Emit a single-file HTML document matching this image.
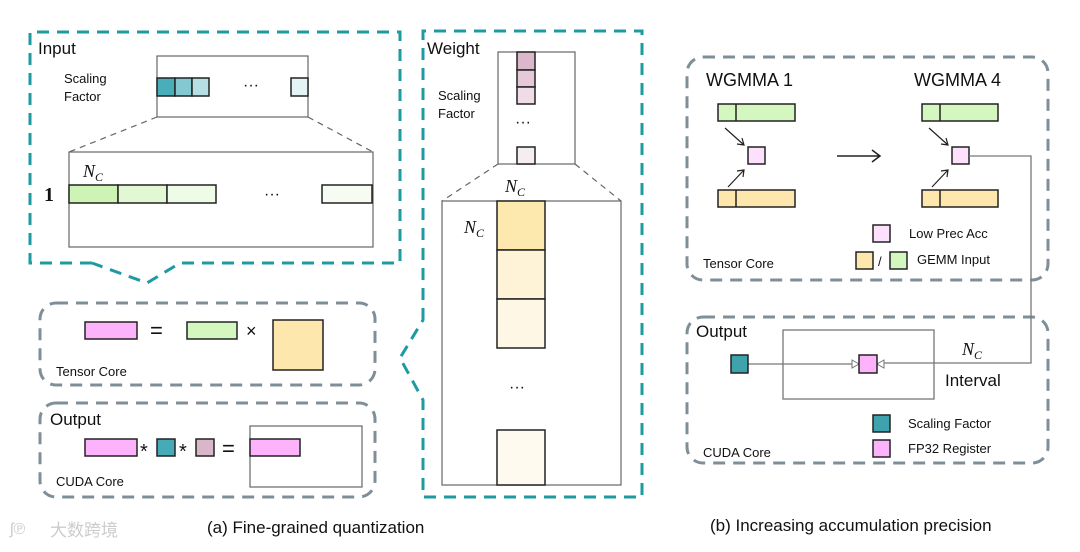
<!DOCTYPE html>
<html><head><meta charset="utf-8"><style>
html,body{margin:0;padding:0;background:#fff}
svg{display:block}
text{font-family:"Liberation Sans",sans-serif;fill:#111}
.m{font-family:"Liberation Serif",serif;font-style:italic}
</style></head><body>
<svg width="1080" height="552" viewBox="0 0 1080 552" xmlns="http://www.w3.org/2000/svg">
<g fill="none" stroke-width="3" stroke-dasharray="12,8">
<path d="M92 263 L30 263 L30 32 L400 32 L400 263 L180 263 L147 283 L92 263" stroke="#1d9aa2"/>
<path d="M423 320 L423 31 L642 31 L642 497 L423 497 L423 400 L400 358 Z" stroke="#1d9aa2"/>
<rect x="40" y="303" width="335" height="82" rx="16" stroke="#7f8f98"/>
<rect x="40" y="403" width="335" height="94" rx="16" stroke="#7f8f98"/>
<rect x="687" y="57" width="361" height="223" rx="16" stroke="#7f8f98"/>
<rect x="687" y="317" width="361" height="146" rx="16" stroke="#7f8f98"/>
</g>
<!-- Input -->
<text x="38" y="54" font-size="17">Input</text>
<text x="64" y="83" font-size="13">Scaling</text>
<text x="64" y="101" font-size="13">Factor</text>
<rect x="157" y="56" width="151" height="61" fill="none" stroke="#666" stroke-width="1.2"/>
<g stroke="#222" stroke-width="1.5">
<rect x="157" y="78" width="18" height="18" fill="#49aeba"/>
<rect x="175" y="78" width="17" height="18" fill="#84c8d1"/>
<rect x="192" y="78" width="17" height="18" fill="#b5dfe4"/>
<rect x="291" y="78" width="17" height="18" fill="#e4f3f5"/>
</g>
<text x="243" y="90" font-size="16">···</text>
<g stroke="#666" stroke-dasharray="6,5" stroke-width="1.2"><line x1="157" y1="117" x2="69" y2="152"/><line x1="308" y1="117" x2="373" y2="152"/></g>
<rect x="69" y="152" width="304" height="95" fill="none" stroke="#666" stroke-width="1.2"/>
<g stroke="#222" stroke-width="1.5">
<rect x="69" y="185" width="49" height="18" fill="#cdf3b5"/>
<rect x="118" y="185" width="49" height="18" fill="#e2f8d4"/>
<rect x="167" y="185" width="49" height="18" fill="#eefbe6"/>
<rect x="322" y="185" width="50" height="18" fill="#f6fcf2"/>
</g>
<text x="83" y="177" font-size="18" class="m">N<tspan font-size="12" dy="4">C</tspan></text>
<text x="44" y="201" font-size="20" style="font-family:'Liberation Serif',serif;font-weight:bold">1</text>
<text x="264" y="199" font-size="16">···</text>
<!-- Weight -->
<text x="427" y="54" font-size="17">Weight</text>
<text x="438" y="100" font-size="13">Scaling</text>
<text x="438" y="118" font-size="13">Factor</text>
<rect x="498" y="52" width="77" height="112" fill="none" stroke="#666" stroke-width="1.2"/>
<g stroke="#222" stroke-width="1.5">
<rect x="517" y="52" width="18" height="18" fill="#dbb7cb"/>
<rect x="517" y="70" width="18" height="17" fill="#e6c9d8"/>
<rect x="517" y="87" width="18" height="17" fill="#efdce6"/>
<rect x="517" y="147" width="18" height="17" fill="#f6edf1"/>
</g>
<text x="515" y="127" font-size="16">···</text>
<g stroke="#666" stroke-dasharray="6,5" stroke-width="1.2"><line x1="498" y1="164" x2="442" y2="201"/><line x1="575" y1="164" x2="621" y2="201"/></g>
<rect x="442" y="201" width="179" height="284" fill="none" stroke="#666" stroke-width="1.2"/>
<g stroke="#222" stroke-width="1.5">
<rect x="497" y="201" width="48" height="49" fill="#fde8ae"/>
<rect x="497" y="250" width="48" height="49" fill="#fef3d6"/>
<rect x="497" y="299" width="48" height="49" fill="#fef7e6"/>
<rect x="497" y="430" width="48" height="55" fill="#fefaf0"/>
</g>
<text x="505" y="192" font-size="18" class="m">N<tspan font-size="12" dy="4">C</tspan></text>
<text x="464" y="233" font-size="18" class="m">N<tspan font-size="12" dy="4">C</tspan></text>
<text x="509" y="392" font-size="16">···</text>
<!-- Tensor core eq -->
<g stroke="#222" stroke-width="1.5">
<rect x="85" y="322" width="52" height="17" fill="#fdb3fb"/>
<rect x="187" y="322" width="50" height="17" fill="#d4f7c0"/>
<rect x="273" y="320" width="50" height="50" fill="#fde7ad"/>
</g>
<text x="150" y="338" font-size="22">=</text>
<text x="246" y="337" font-size="18">×</text>
<text x="56" y="376" font-size="13">Tensor Core</text>
<!-- output eq -->
<text x="50" y="425" font-size="17">Output</text>
<g stroke="#222" stroke-width="1.5">
<rect x="85" y="439" width="52" height="17" fill="#fdb3fb"/>
<rect x="157" y="439" width="18" height="17" fill="#45abb8"/>
<rect x="196" y="439" width="18" height="17" fill="#d9b7c8"/>
</g>
<text x="140" y="458" font-size="20">*</text>
<text x="179" y="458" font-size="20">*</text>
<text x="222" y="456" font-size="22">=</text>
<rect x="250" y="426" width="112" height="61" fill="none" stroke="#666" stroke-width="1.2"/>
<rect x="250" y="439" width="50" height="17" fill="#fdb3fb" stroke="#222" stroke-width="1.5"/>
<text x="56" y="486" font-size="13">CUDA Core</text>
<!-- captions -->
<text x="207" y="533" font-size="17">(a) Fine-grained quantization</text>
<text x="710" y="531" font-size="17">(b) Increasing accumulation precision</text>
<text x="50" y="536" font-size="17" style="fill:#ccc;font-family:'Noto Sans CJK SC',sans-serif">大数跨境</text>
<text x="10" y="534" font-size="16" style="fill:#ccc">ʃ℗</text>
<!-- Right top -->
<text x="706" y="86" font-size="18">WGMMA 1</text>
<text x="914" y="86" font-size="18">WGMMA 4</text>
<g stroke="#222" stroke-width="1.5">
<rect x="718" y="104" width="77" height="17" fill="#d4f7c0"/><line x1="736" y1="104" x2="736" y2="121"/>
<rect x="718" y="190" width="77" height="17" fill="#fde7ad"/><line x1="736" y1="190" x2="736" y2="207"/>
<rect x="748" y="147" width="17" height="17" fill="#fde0fb"/>
<rect x="922" y="104" width="76" height="17" fill="#d4f7c0"/><line x1="940" y1="104" x2="940" y2="121"/>
<rect x="922" y="190" width="76" height="17" fill="#fde7ad"/><line x1="940" y1="190" x2="940" y2="207"/>
<rect x="952" y="147" width="17" height="17" fill="#fde0fb"/>
</g>
<g stroke="#222" stroke-width="1.2" fill="none">
<path d="M725 128 L744 145 M737 144 L744 145 L742 138"/>
<path d="M728 187 L744 170 M737 171 L744 170 L743 177"/>
<path d="M929 128 L948 145 M941 144 L948 145 L946 138"/>
<path d="M932 187 L948 170 M941 171 L948 170 L947 177"/>
<path d="M837 156 L880 156 M872 150 L880 156 L872 162" stroke-width="1.5"/>
</g>
<path d="M969 156 L1031 156 L1031 363 L880 363" fill="none" stroke="#777" stroke-width="1.3"/>
<g stroke="#222" stroke-width="1.5">
<rect x="873" y="225" width="17" height="17" fill="#fde0fb"/>
<rect x="856" y="252" width="17" height="17" fill="#fde7ad"/>
<rect x="890" y="252" width="17" height="17" fill="#d4f7c0"/>
</g>
<text x="878" y="266" font-size="13">/</text>
<text x="909" y="238" font-size="13">Low Prec Acc</text>
<text x="917" y="264" font-size="13">GEMM Input</text>
<text x="703" y="268" font-size="13">Tensor Core</text>
<!-- Right bottom -->
<text x="696" y="337" font-size="17">Output</text>
<rect x="783" y="330" width="151" height="69" fill="none" stroke="#777" stroke-width="1.3"/>
<line x1="748" y1="364" x2="852" y2="364" stroke="#777" stroke-width="1.3"/>
<path d="M852 360 L859 364 L852 368 Z M884 360 L877 364 L884 368 Z" fill="#fff" stroke="#777"/>
<g stroke="#222" stroke-width="1.5">
<rect x="731" y="355" width="17" height="18" fill="#3fa3ae"/>
<rect x="859" y="355" width="18" height="18" fill="#fdb3fb"/>
<rect x="873" y="415" width="17" height="17" fill="#3fa3ae"/>
<rect x="873" y="440" width="17" height="17" fill="#fdb3fb"/>
</g>
<text x="962" y="355" font-size="18" class="m">N<tspan font-size="12" dy="4">C</tspan></text>
<text x="945" y="386" font-size="17">Interval</text>
<text x="908" y="428" font-size="13">Scaling Factor</text>
<text x="908" y="453" font-size="13">FP32 Register</text>
<text x="703" y="457" font-size="13">CUDA Core</text>
</svg>
</body></html>
